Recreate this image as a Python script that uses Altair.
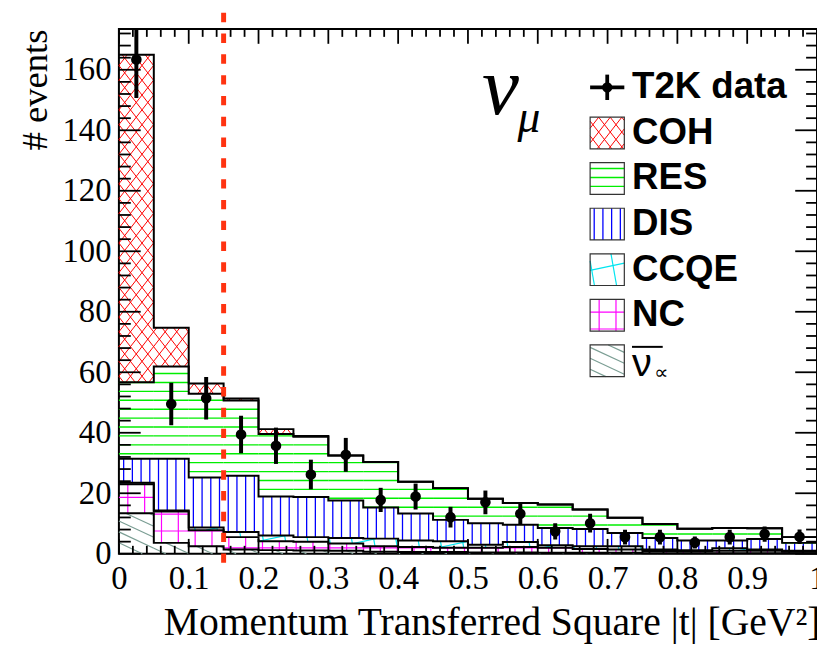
import math
import altair as alt
import pandas as pd

# ---------------- data ----------------
edges = [0.00, 0.05, 0.10, 0.15, 0.20, 0.25, 0.30, 0.35, 0.40, 0.45, 0.50,
         0.55, 0.60, 0.65, 0.70, 0.75, 0.80, 0.85, 0.90, 0.95, 1.00]
centers = [0.025, 0.075, 0.125, 0.175, 0.225, 0.275, 0.325, 0.375, 0.425, 0.475,
           0.525, 0.575, 0.625, 0.675, 0.725, 0.775, 0.825, 0.875, 0.925, 0.975]

# stacked MC components, bottom to top
nubar = [13.4, 3.6, 2.5, 1.4, 1.2, 1.1, 1.0, 0.7, 0.6, 0.6, 0.4, 0.4, 0.3, 0.3, 0.3, 0.2, 0.2, 0.2, 0.2, 0.2]
nc    = [9.6, 10.4, 5.3, 4.1, 2.9, 2.9, 2.4, 1.8, 1.6, 1.4, 1.6, 1.8, 1.7, 1.3, 1.1, 0.7, 0.6, 0.8, 0.8, 0.5]
ccqe  = [0.5, 0.3, 0.9, 1.7, 1.9, 1.5, 1.8, 2.5, 2.2, 2.1, 1.0, 1.7, 0.8, 0.9, 1.1, 0.5, 0.4, 0.8, 0.4, 0.3]
dis   = [7.9, 17.1, 16.5, 18.6, 12.9, 13.3, 12.4, 10.3, 8.9, 7.1, 7.1, 5.7, 5.7, 5.7, 4.4, 3.8, 3.2, 2.6, 3.5, 2.6]
res   = [25.3, 30.5, 27.7, 24.9, 20.7, 19.9, 14.9, 15.0, 10.5, 10.5, 8.1, 7.2, 7.8, 6.4, 5.0, 4.6, 3.9, 4.1, 3.5, 1.9]
coh   = [108.3, 12.8, 3.4, 0.6, 1.6, 0.2, 0, 0, 0, 0, 0, 0, 0, 0, 0, 0, 0, 0, 0, 0]

# T2K data
data_y   = [163.4, 49.5, 51.4, 39.4, 35.7, 26.2, 32.7, 17.8, 18.9, 12.1,
            17.0, 13.2, 7.4, 10.1, 5.5, 5.5, 3.7, 5.5, 6.5, 5.6]
data_err = [12.7, 7.0, 7.0, 6.2, 6.0, 4.9, 5.6, 4.0, 4.3, 3.4,
            3.9, 3.5, 2.7, 3.1, 2.4, 2.4, 2.0, 2.4, 2.5, 2.4]

cut_x = [0.15]

legend_names  = ["coh", "res", "dis", "ccqe", "nc", "nubar"]
legend_labels = ["COH", "RES", "DIS", "CCQE", "NC", ""]

x_major = [0, 0.1, 0.2, 0.3, 0.4, 0.5, 0.6, 0.7, 0.8, 0.9, 1.0]
y_major = [0, 20, 40, 60, 80, 100, 120, 140, 160]

# ---------------- layout / style ----------------
W, H = 705, 530
YMAX = 173.5
SX = W / 1.0
SY = H / YMAX

x_minor = [round(0.02 * k, 2) for k in range(1, 50) if k % 5 != 0]
y_minor = [4 * k for k in range(1, 44) if k % 5 != 0]

styles = {
    "coh":   dict(color="#ff0000", width=1.0, fam=[(52, 9.2, 0.0), (128, 9.2, 0.0)]),
    "res":   dict(color="#00ee00", width=1.4, fam=[(0, 9.0, 2.0)]),
    "dis":   dict(color="#0000ff", width=1.3, fam=[(90, 8.8, 4.0)]),
    "ccqe":  dict(color="#00e5f0", width=1.2, fam=[(12, 22.0, 5.0), (100, 22.0, 8.0)]),
    "nc":    dict(color="#ff00ff", width=1.2, fam=[(0, 17.0, 6.0), (90, 17.0, 8.0)]),
    "nubar": dict(color="#7b9e94", width=1.2, fam=[(-25, 10.0, 0.0)]),
}


def clip(px, py, dx, dy, X0, X1, Y0, Y1):
    t0, t1 = -1e9, 1e9
    for p, q in ((-dx, px - X0), (dx, X1 - px), (-dy, py - Y0), (dy, Y1 - py)):
        if abs(p) < 1e-12:
            if q < 0:
                return None
            continue
        t = q / p
        if p < 0:
            t0 = max(t0, t)
        else:
            t1 = min(t1, t)
    if t1 - t0 < 0.6:
        return None
    return (px + t0 * dx, py + t0 * dy, px + t1 * dx, py + t1 * dy)


def hatch(rects, style):
    out = []
    for angle, spacing, phase in style["fam"]:
        a = math.radians(angle)
        dx, dy = math.cos(a), math.sin(a)
        nx, ny = -dy, dx
        for (x0, x1, y0, y1) in rects:
            X0, X1, Y0, Y1 = x0 * SX, x1 * SX, y0 * SY, y1 * SY
            cs = [X * nx + Y * ny for X in (X0, X1) for Y in (Y0, Y1)]
            kmin = math.ceil((min(cs) - phase) / spacing)
            kmax = math.floor((max(cs) - phase) / spacing)
            for k in range(kmin, kmax + 1):
                c = phase + k * spacing
                seg = clip(c * nx, c * ny, dx, dy, X0, X1, Y0, Y1)
                if seg:
                    out.append(dict(x=seg[0] / SX, y=seg[1] / SY, x2=seg[2] / SX, y2=seg[3] / SY,
                                    c=style["color"], w=style["width"]))
    return out


# cumulative stack
comps = [("nubar", nubar), ("nc", nc), ("ccqe", ccqe), ("dis", dis), ("res", res), ("coh", coh)]
run = [0.0] * 20
segs = []
outline_rows = []
for name, vals in comps:
    new = [r + v for r, v in zip(run, vals)]
    rects = [(edges[i], edges[i + 1], run[i], new[i]) for i in range(20) if vals[i] > 0.05]
    segs += hatch(rects, styles[name])
    for i in range(20):
        outline_rows.append(dict(x=edges[i], y=new[i], lev=name))
    outline_rows.append(dict(x=edges[20], y=new[19], lev=name))
    run = new

# legend boxes (data coordinates of the frame)
LX0, LX1, LTX = 0.675, 0.724, 0.735
L_T2K = 154.2
L_ROW0, L_STEP, L_HALF = 139.1, 15.06, 5.24
leg_rows = []
for r, (name, lab) in enumerate(zip(legend_names, legend_labels)):
    cy = L_ROW0 - L_STEP * r
    leg_rows.append(dict(x0=LX0, x1=LX1, y0=cy - L_HALF, y1=cy + L_HALF, cy=cy, label=lab, tx=LTX))
    segs += hatch([(LX0, LX1, cy - L_HALF, cy + L_HALF)], styles[name])

hatch_df = pd.DataFrame(segs)
outline_df = pd.DataFrame(outline_rows)
leg_df = pd.DataFrame(leg_rows)
pts_df = pd.DataFrame(dict(x=centers, y=data_y,
                           lo=[v - e for v, e in zip(data_y, data_err)],
                           hi=[v + e for v, e in zip(data_y, data_err)]))

XS = alt.Scale(domain=[0, 1], nice=False, zero=False)
YS = alt.Scale(domain=[0, YMAX], nice=False, zero=False)

XAX = alt.Axis(values=x_major, labelExpr="datum.value == 0 ? '0' : (datum.value == 1 ? '1' : format(datum.value, '.1f'))",
               title="Momentum Transferred Square |t| [GeV²]", ticks=False, tickSize=0, domain=False, grid=False,
               labelFont="Liberation Serif", labelFontSize=33, labelPadding=9, labelColor="black",
               labelFlush=False, labelOverlap=False, labelBound=False,
               titleFont="Liberation Serif", titleFontSize=40, titleFontWeight="normal", titleColor="black",
               titleAnchor="end", titleAlign="right", titleBaseline="alphabetic", titleX=W + 3, titleY=82)
YAX = alt.Axis(values=y_major, format="d", title="# events", ticks=False, tickSize=0, domain=False, grid=False,
               labelFont="Liberation Serif", labelFontSize=33, labelPadding=8, labelColor="black",
               labelFlush=False, labelOverlap=False, labelBound=False,
               titleFont="Liberation Serif", titleFontSize=37, titleFontWeight="normal", titleColor="black",
               titleAngle=-90, titleAnchor="end", titleAlign="right", titleBaseline="alphabetic",
               titleX=-73, titleY=0)


def X(f):
    return alt.X(f, type="quantitative", scale=XS, axis=XAX)


def Y(f):
    return alt.Y(f, type="quantitative", scale=YS, axis=YAX)


hatch_layer = alt.Chart(hatch_df).mark_rule(strokeCap="butt").encode(
    x=X("x"), y=Y("y"), x2="x2", y2="y2",
    color=alt.Color("c:N", scale=None), strokeWidth=alt.StrokeWidth("w:Q", scale=None))

outline_layer = alt.Chart(outline_df).mark_line(interpolate="step-after", color="black", strokeWidth=2).encode(
    x=X("x"), y=Y("y"), detail="lev:N")

legbox_layer = alt.Chart(leg_df).mark_rect(fill="transparent", stroke="#333333", strokeWidth=1.2).encode(
    x=X("x0"), x2="x1", y=Y("y0"), y2="y1")

legtext_layer = alt.Chart(leg_df).mark_text(align="left", baseline="middle", font="Liberation Sans",
                                            fontWeight="bold", fontSize=37, color="black").encode(
    x=X("tx"), y=Y("cy"), text="label:N")

t2k_df = pd.DataFrame([dict(x=LX0, x2=LX1, y=L_T2K, y2=L_T2K),
                       dict(x=(LX0 + LX1) / 2, x2=(LX0 + LX1) / 2, y=L_T2K - 4.2, y2=L_T2K + 4.2)])
t2k_rules = alt.Chart(t2k_df).mark_rule(color="black", strokeWidth=3.8).encode(
    x=X("x"), x2="x2", y=Y("y"), y2="y2")
t2k_dot = alt.Chart(pd.DataFrame(dict(x=[(LX0 + LX1) / 2], y=[L_T2K]))).mark_circle(
    size=110, color="black", opacity=1).encode(x=X("x"), y=Y("y"))
t2k_text = alt.Chart(pd.DataFrame(dict(x=[LTX], y=[L_T2K], t=["T2K data"]))).mark_text(
    align="left", baseline="middle", font="Liberation Sans", fontWeight="bold", fontSize=37, color="black").encode(
    x=X("x"), y=Y("y"), text="t:N")

nb_y = L_ROW0 - L_STEP * 5
nubar_nu = alt.Chart(pd.DataFrame(dict(x=[LTX], y=[nb_y - 1.0], t=["ν"]))).mark_text(
    align="left", baseline="middle", font="Liberation Sans", fontSize=40, color="black").encode(
    x=X("x"), y=Y("y"), text="t:N")
nubar_sub = alt.Chart(pd.DataFrame(dict(x=[LTX + 0.032], y=[nb_y - 4.0], t=["∝"]))).mark_text(
    align="left", baseline="middle", font="DejaVu Sans", fontSize=20, color="black").encode(
    x=X("x"), y=Y("y"), text="t:N")
nubar_bar = alt.Chart(pd.DataFrame(dict(x=[LTX], x2=[LTX + 0.044], y=[nb_y + 4.6]))).mark_rule(
    color="black", strokeWidth=2).encode(x=X("x"), x2="x2", y=Y("y"))

numu_nu = alt.Chart(pd.DataFrame(dict(x=[0.52], y=[145.3], t=["ν"]))).mark_text(
    align="left", baseline="alphabetic", font="Liberation Serif", fontStyle="italic", fontSize=84,
    color="black").encode(x=X("x"), y=Y("y"), text="t:N")
numu_mu = alt.Chart(pd.DataFrame(dict(x=[0.571], y=[139.4], t=["μ"]))).mark_text(
    align="left", baseline="alphabetic", font="Liberation Serif", fontStyle="italic", fontSize=46,
    color="black").encode(x=X("x"), y=Y("y"), text="t:N")

cut_layer = alt.Chart(pd.DataFrame(dict(x=cut_x, lo=[-3.0], hi=[180.0]))).mark_rule(
    color="#ff3311", strokeWidth=5, strokeDash=[9.5, 11.5], clip=False).encode(
    x=X("x"), y=Y("lo"), y2="hi")

err_layer = alt.Chart(pts_df).mark_rule(color="black", strokeWidth=4, clip=True).encode(
    x=X("x"), y=Y("lo"), y2="hi")
pt_layer = alt.Chart(pts_df).mark_circle(size=115, color="black", opacity=1).encode(x=X("x"), y=Y("y"))


def ticks(vals, side, length):
    df = pd.DataFrame(dict(v=vals))
    ch = alt.Chart(df).mark_rule(color="black", strokeWidth=1.8)
    if side == "left":
        return ch.encode(y=Y("v"), x=alt.value(0), x2=alt.value(length))
    if side == "right":
        return ch.encode(y=Y("v"), x=alt.value(W), x2=alt.value(W - length))
    if side == "bottom":
        return ch.encode(x=X("v"), y=alt.value(H), y2=alt.value(H - length))
    return ch.encode(x=X("v"), y=alt.value(0), y2=alt.value(length))


tick_layers = [ticks(y_major, "left", 22), ticks(y_minor, "left", 12),
               ticks(y_major, "right", 22), ticks(y_minor, "right", 11),
               ticks(x_major, "bottom", 15), ticks(x_minor, "bottom", 8),
               ticks(x_major, "top", 15), ticks(x_minor, "top", 8)]

chart = alt.layer(
    hatch_layer, outline_layer, legbox_layer, legtext_layer,
    t2k_rules, t2k_dot, t2k_text, nubar_nu, nubar_sub, nubar_bar,
    numu_nu, numu_mu, cut_layer, err_layer, pt_layer, *tick_layers
).properties(
    width=W, height=H,
    padding={"left": 112, "top": 18, "right": 0, "bottom": 90},
    autosize=alt.AutoSizeParams(type="none"),
    background="white",
).configure_view(stroke="black", strokeWidth=2)

chart.save("out.html", embed_options={"renderer": "svg", "actions": False})
